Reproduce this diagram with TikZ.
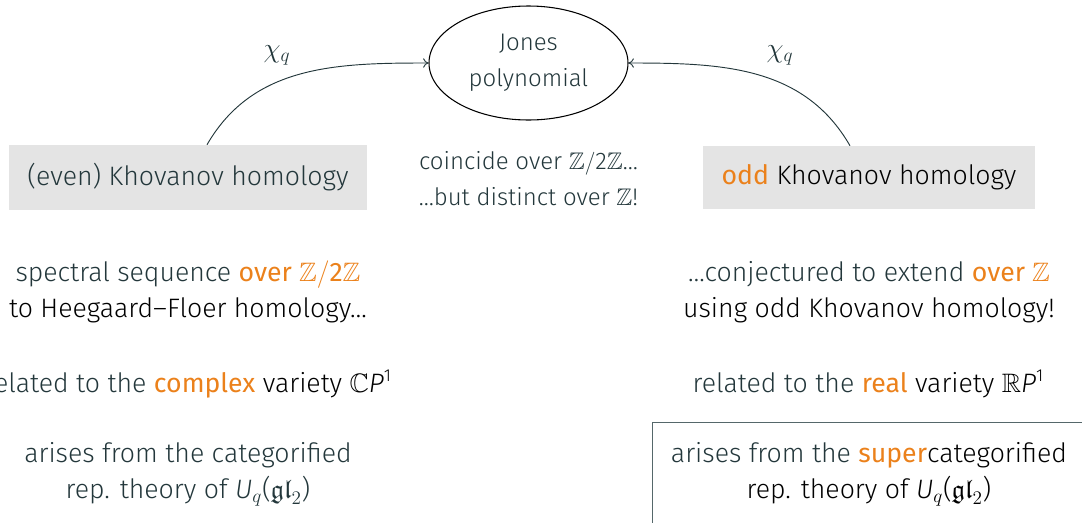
\documentclass[tikz,border=0pt]{standalone}
\usepackage{amssymb}
\usepackage{fontspec}
\setmainfont{Fira Sans Light}
\newfontfamily\firareg{Fira Sans}
\usetikzlibrary{shapes.geometric,arrows.meta}
\definecolor{mteal}{HTML}{23373B}
\definecolor{morange}{HTML}{EB811B}
\definecolor{boxgray}{HTML}{E4E4E4}
\definecolor{framec}{HTML}{55676A}
\newcommand\alrt[1]{{\firareg\color{morange}#1}}
\newcommand\supone{\raisebox{0.75ex}{\fontsize{13}{13}\selectfont 1}}
\begin{document}
\begin{tikzpicture}[x=0.75pt,y=-0.75pt,
  every node/.style={text=mteal, inner sep=0pt},
  big/.style={font=\fontsize{20}{27}\selectfont, align=center},
  small/.style={font=\fontsize{18}{27}\selectfont, align=center},
  graybox/.style={big, fill=boxgray},
  arr/.style={draw=mteal, line width=0.7pt, -{To[length=4pt,width=7pt]}}]
\clip (0,0) rectangle (1082,522);
\node[ellipse, draw=black, line width=0.8pt, minimum width=149.25pt, minimum height=85.5pt, small] (jones) at (528.5,63) {Jones\\polynomial};
\node[graybox, minimum width=268.5pt, minimum height=48.75pt] (even) at (188,177.5) {(even) Khovanov homology};
\node[graybox, minimum width=249pt, minimum height=47.25pt] (odd) at (869,177.5) {\alrt{odd} \textcolor{black}{Khovanov homology}};
\node[small] (coin) at (528.5,179) {coincide over $\mathbb{Z}/$2$\mathbb{Z}$…\\…but distinct over $\mathbb{Z}$!};
\draw[arr] ([xshift=14.25pt]even.north) to[out=60,in=180] (jones.west);
\draw[arr] ([xshift=-14.25pt]odd.north) to[out=120,in=0] (jones.east);
\node[big] (chiL) at (277,55) {$\chi_q$};
\node[big] (chiR) at (780,55) {$\chi_q$};
\node[big] (specL) at (188,292) {spectral sequence \alrt{over $\mathbb{Z}/$2$\mathbb{Z}$}\\\textcolor{black}{to Heegaard–Floer homology…}};
\node[big] (relL) at (188,384) {related to the \alrt{complex} \textcolor{black}{variety $\mathbb{C}$\textit{P}\supone}};
\node[big] (catL) at (188,474) {arises from the categorified\\rep. theory of \textit{U}$_q$($\mathfrak{gl}_2$)};
\node[big] (specR) at (869,292) {…conjectured to extend \alrt{over $\mathbb{Z}$}\\\textcolor{black}{using odd Khovanov homology!}};
\node[big] (relR) at (868,384) {related to the \alrt{real} \textcolor{black}{variety $\mathbb{R}$\textit{P}\supone}};
\node[draw=framec, line width=0.9pt, minimum width=327pt, minimum height=97.5pt, anchor=north west] (frame) at (652,422) {};
\node[big] (catR) at (869,474) {arises from the \alrt{super}\textcolor{black}{categorified}\\\textcolor{black}{rep. theory of \textit{U}$_q$($\mathfrak{gl}_2$)}};
\end{tikzpicture}
\end{document}
